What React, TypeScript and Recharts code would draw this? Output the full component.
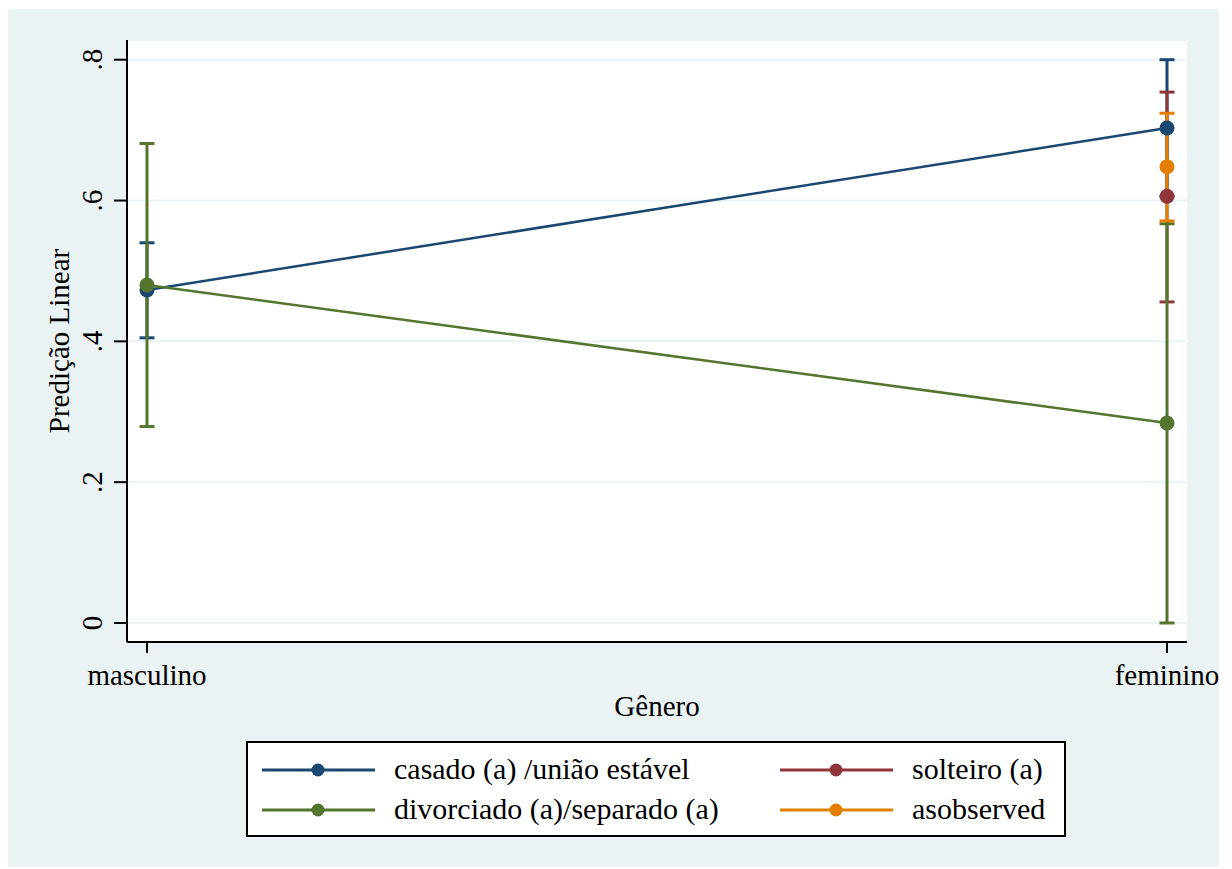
import { ComposedChart, Line, XAxis, YAxis, CartesianGrid, ErrorBar } from 'recharts';

const categories = ['masculino', 'feminino'];

// predictions and 95% CI
const casado = [0.473, 0.703];
const casadoLo = [0.405, 0.606];
const casadoHi = [0.54, 0.8];

const solteiro = [null, 0.606];
const solteiroLo = [null, 0.456];
const solteiroHi = [null, 0.754];

const divorciado = [0.48, 0.284];
const divorciadoLo = [0.279, 0.0];
const divorciadoHi = [0.681, 0.567];

const asobserved = [null, 0.648];
const asobservedLo = [null, 0.571];
const asobservedHi = [null, 0.724];

const yTicks = [0, 0.2, 0.4, 0.6, 0.8];

const NAVY = '#1a476f';
const MAROON = '#90353b';
const GREEN = '#55752f';
const ORANGE = '#e37e00';
const BG = '#eaf2f3';
const FONT = "'Liberation Serif', 'Times New Roman', serif";

const err = (v: number | null, lo: number | null, hi: number | null) =>
  v == null || lo == null || hi == null ? undefined : [v - lo, hi - v];

const data = categories.map((c, i) => ({
  x: i,
  label: c,
  casado: casado[i],
  casadoErr: err(casado[i], casadoLo[i], casadoHi[i]),
  solteiro: solteiro[i],
  solteiroErr: err(solteiro[i], solteiroLo[i], solteiroHi[i]),
  divorciado: divorciado[i],
  divorciadoErr: err(divorciado[i], divorciadoLo[i], divorciadoHi[i]),
  asobserved: asobserved[i],
  asobservedErr: err(asobserved[i], asobservedLo[i], asobservedHi[i]),
}));

const series = [
  { key: 'casado', name: 'casado (a) /união estável', color: NAVY },
  { key: 'solteiro', name: 'solteiro (a)', color: MAROON },
  { key: 'divorciado', name: 'divorciado (a)/separado (a)', color: GREEN },
  { key: 'asobserved', name: 'asobserved', color: ORANGE },
];

const fmtY = (v: number) => (v === 0 ? '0' : String(Math.round(v * 10) / 10).replace('0.', '.'));

const YTick = (props: any) => {
  const { x, y, payload } = props;
  const tx = x - 12;
  return (
    <text x={tx} y={y} transform={`rotate(-90, ${tx}, ${y})`} textAnchor="middle"
      fontFamily={FONT} fontSize={29} fill="#000">
      {fmtY(payload.value)}
    </text>
  );
};

const XTick = (props: any) => {
  const { x, y, payload } = props;
  return (
    <text x={x} y={y + 32} textAnchor="middle" fontFamily={FONT} fontSize={29} fill="#000">
      {categories[payload.value]}
    </text>
  );
};

const YTitle = (props: any) => {
  const vb = props.viewBox;
  const cx = vb.x + 61;
  const cy = vb.y + vb.height / 2;
  return (
    <text x={cx} y={cy} transform={`rotate(-90, ${cx}, ${cy})`} textAnchor="middle"
      fontFamily={FONT} fontSize={29} fill="#000">
      Predição Linear
    </text>
  );
};

const XTitle = (props: any) => {
  const vb = props.viewBox;
  return (
    <text x={vb.x + vb.width / 2} y={vb.y + 74} textAnchor="middle" fontFamily={FONT} fontSize={29} fill="#000">
      Gênero
    </text>
  );
};

function LegendBox() {
  const pos = [
    { x: 14, y: 27 },
    { x: 532, y: 27 },
    { x: 14, y: 67 },
    { x: 532, y: 67 },
  ];
  // stata order: casado, solteiro / divorciado, asobserved
  return (
    <div style={{ position: 'absolute', left: 238, top: 732, width: 816, height: 92, border: '2px solid #000', background: '#fff' }}>
      <svg width={816} height={92}>
        {series.map((s, i) => (
          <g key={s.key}>
            <line x1={pos[i].x} x2={pos[i].x + 113} y1={pos[i].y} y2={pos[i].y} stroke={s.color} strokeWidth={3} />
            <circle cx={pos[i].x + 56} cy={pos[i].y} r={6.5} fill={s.color} />
            <text x={pos[i].x + 132} y={pos[i].y + 9} fontFamily={FONT} fontSize={30} fill="#000">{s.name}</text>
          </g>
        ))}
      </svg>
    </div>
  );
}

export default function App() {
  return (
    <div style={{ position: 'relative', width: 1211, height: 858, marginTop: 1, background: BG, fontFamily: FONT }}>
      <ComposedChart width={1211} height={858} data={data} margin={{ top: 31, right: 32, bottom: 155, left: 0 }}>
        <CartesianGrid fill="#fff" vertical={false} stroke={BG} strokeWidth={2} />
        <XAxis dataKey="x" type="number" domain={[-0.0196, 1.0196]} ticks={[0, 1]} allowDataOverflow
          height={70} tickSize={11} tickMargin={0}
          axisLine={{ stroke: '#000', strokeWidth: 2 }} tickLine={{ stroke: '#000', strokeWidth: 2 }}
          tick={<XTick />} label={{ content: <XTitle /> }} />
        <YAxis type="number" domain={[-0.027, 0.828]} ticks={yTicks} allowDataOverflow
          width={119} tickSize={13} tickMargin={0}
          axisLine={{ stroke: '#000', strokeWidth: 2 }} tickLine={{ stroke: '#000', strokeWidth: 2 }}
          tick={<YTick />} label={{ content: <YTitle /> }} />
        {series.map((s) => (
          <Line key={s.key + '-ci'} dataKey={s.key} stroke="none" dot={false} activeDot={false}
            legendType="none" isAnimationActive={false}>
            <ErrorBar dataKey={s.key + 'Err'} direction="y" width={7.5} stroke={s.color} strokeWidth={3} />
          </Line>
        ))}
        {series.map((s) => (
          <Line key={s.key} dataKey={s.key} name={s.name} stroke={s.color} strokeWidth={2.5}
            dot={{ r: 7.5, fill: s.color, stroke: s.color, strokeWidth: 0 }} activeDot={false}
            isAnimationActive={false} />
        ))}
      </ComposedChart>
      <LegendBox />
    </div>
  );
}
